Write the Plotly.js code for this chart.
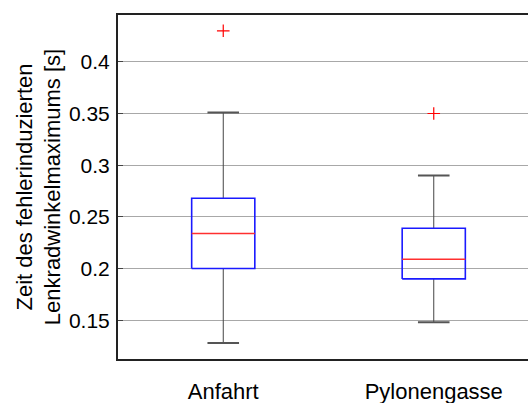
<!DOCTYPE html>
<html>
<head>
<meta charset="utf-8">
<script src="https://cdn.plot.ly/plotly-3.0.1.min.js"></script>
<style>
html, body { margin: 0; padding: 0; overflow: hidden; background: #fff; }
#chart { width: 560px; height: 403px; }
</style>
</head>
<body>
<div id="chart"></div>
<script>
// ---- data ----
const categories = ['Anfahrt', 'Pylonengasse'];
const positions = [1, 2];
const lowerWhisker = [0.128, 0.148];
const q1 = [0.200, 0.190];
const median = [0.234, 0.209];
const q3 = [0.268, 0.239];
const upperWhisker = [0.351, 0.290];
const outlierX = [1, 2];
const outlierY = [0.430, 0.350];
const yTicks = [0.15, 0.2, 0.25, 0.3, 0.35, 0.4];

// ---- styling ----
const boxHalf = 0.15;
const capHalf = 0.075;
const FONT = 'Liberation Sans, Arial, Helvetica, sans-serif';

const traces = [];
positions.forEach((p, i) => {
  // whiskers (dark gray)
  traces.push({
    type: 'scatter', mode: 'lines', hoverinfo: 'skip', showlegend: false,
    x: [p, p, null, p, p],
    y: [q3[i], upperWhisker[i], null, lowerWhisker[i], q1[i]],
    line: { color: '#444444', width: 1 }
  });
  // caps
  traces.push({
    type: 'scatter', mode: 'lines', hoverinfo: 'skip', showlegend: false,
    x: [p - capHalf, p + capHalf, null, p - capHalf, p + capHalf],
    y: [upperWhisker[i], upperWhisker[i], null, lowerWhisker[i], lowerWhisker[i]],
    line: { color: '#555555', width: 2 }
  });
  // box
  traces.push({
    type: 'scatter', mode: 'lines', hoverinfo: 'skip', showlegend: false,
    x: [p - boxHalf, p + boxHalf, p + boxHalf, p - boxHalf, p - boxHalf],
    y: [q1[i], q1[i], q3[i], q3[i], q1[i]],
    line: { color: '#1a1aff', width: 1.6 }
  });
  // median
  traces.push({
    type: 'scatter', mode: 'lines', hoverinfo: 'skip', showlegend: false,
    x: [p - boxHalf, p + boxHalf],
    y: [median[i], median[i]],
    line: { color: '#ff3030', width: 1.5 }
  });
});
// outliers
traces.push({
  type: 'scatter', mode: 'markers', hoverinfo: 'skip', showlegend: false,
  x: outlierX, y: outlierY,
  marker: { symbol: 'cross-thin-open', size: 9, color: '#ff0000', line: { color: '#ff0000', width: 1.2 } }
});

const layout = {
  width: 560, height: 403,
  margin: { l: 118, r: 21, t: 15, b: 44 },
  paper_bgcolor: '#ffffff', plot_bgcolor: '#ffffff',
  font: { family: FONT, color: '#000000', size: 21 },
  showlegend: false,
  xaxis: {
    range: [0.5, 2.5],
    tickmode: 'array', tickvals: positions, ticktext: categories,
    tickfont: { family: FONT, size: 22, color: '#000' },
    showgrid: false, zeroline: false,
    showline: true, linecolor: '#222222', linewidth: 2, mirror: true,
    ticks: '', ticklabelstandoff: 12
  },
  yaxis: {
    range: [0.1125, 0.4453],
    tickmode: 'array', tickvals: yTicks, ticktext: yTicks.map(v => String(v)),
    tickfont: { family: FONT, size: 21, color: '#000' },
    showgrid: true, gridcolor: '#a8a8a8', gridwidth: 1,
    zeroline: false,
    showline: true, linecolor: '#222222', linewidth: 2, mirror: true,
    ticks: 'inside', ticklen: 5, tickcolor: '#444', ticklabelstandoff: 2,
    title: {
      text: 'Zeit des fehlerinduzierten<br>Lenkradwinkelmaximums [s]',
      font: { family: FONT, size: 22, color: '#000' },
      standoff: 2
    }
  }
};

Plotly.newPlot('chart', traces, layout, { staticPlot: true, displayModeBar: false });
</script>
</body>
</html>
